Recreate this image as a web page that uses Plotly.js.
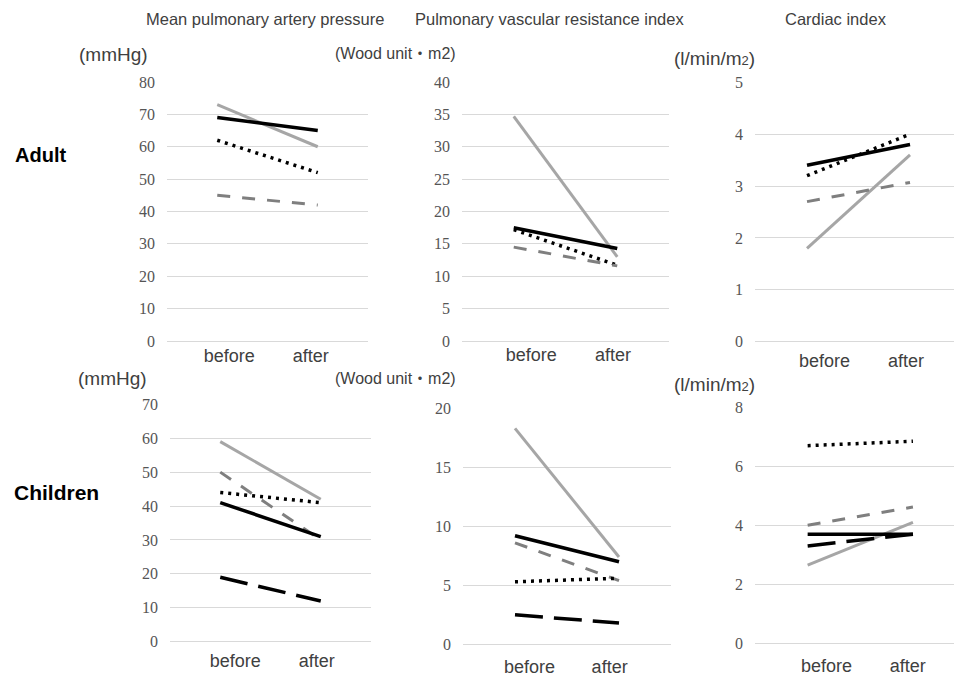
<!DOCTYPE html>
<html>
<head>
<meta charset="utf-8">
<script src="https://cdn.plot.ly/plotly-3.0.1.min.js"></script>
<style>html,body{margin:0;padding:0;background:#fff;}#chart{width:954px;height:678px;}</style>
</head>
<body>
<div id="chart"></div>
<script>
// ---- data ----
const categories = ['before', 'after'];
const columnTitles = ['Mean pulmonary artery pressure', 'Pulmonary vascular resistance index', 'Cardiac index'];
const rowLabels = ['Adult', 'Children'];
const unitLabels = ['(mmHg)', '(Wood unit・m2)', '(l/min/m<span style="font-size:13px">2</span>)'];

// Adult
const adultMPAP_graySolid = [73, 60];
const adultMPAP_blackSolid = [69, 65];
const adultMPAP_dotted = [62, 52];
const adultMPAP_grayDash = [45, 42];

const adultPVRI_graySolid = [34.7, 13];
const adultPVRI_blackSolid = [17.5, 14.3];
const adultPVRI_dotted = [17.2, 11.7];
const adultPVRI_grayDash = [14.5, 11.6];

const adultCI_graySolid = [1.8, 3.6];
const adultCI_blackSolid = [3.4, 3.8];
const adultCI_dotted = [3.2, 4.0];
const adultCI_grayDash = [2.7, 3.07];

// Children
const childMPAP_graySolid = [59, 42];
const childMPAP_grayDash = [50, 30];
const childMPAP_dotted = [44, 41];
const childMPAP_blackSolid = [41, 31];
const childMPAP_blackDash = [19, 12];

const childPVRI_graySolid = [18.3, 7.4];
const childPVRI_blackSolid = [9.2, 7.0];
const childPVRI_grayDash = [8.6, 5.4];
const childPVRI_dotted = [5.3, 5.6];
const childPVRI_blackDash = [2.5, 1.8];

const childCI_dotted = [6.7, 6.85];
const childCI_grayDash = [4.0, 4.62];
const childCI_blackSolid = [3.7, 3.7];
const childCI_blackDash = [3.3, 3.7];
const childCI_graySolid = [2.65, 4.1];

// y axis maxima / steps
const yMax = [80, 40, 5, 70, 20, 8];
const yStep = [10, 5, 1, 10, 5, 2];

// ---- styles ----
const W = 954, H = 678;
const styles = {
  graySolid: {color: '#a6a6a6', width: 3, dash: 'solid'},
  blackSolid: {color: '#000000', width: 3.5, dash: 'solid'},
  dotted: {color: '#000000', width: 3.5, dash: '3px,5px'},
  grayDash: {color: '#7f7f7f', width: 3, dash: '13px,12px'},
  blackDash: {color: '#000000', width: 3.5, dash: '28px,11px'}
};

const panelSeries = [
  [['graySolid', adultMPAP_graySolid], ['blackSolid', adultMPAP_blackSolid], ['dotted', adultMPAP_dotted], ['grayDash', adultMPAP_grayDash]],
  [['graySolid', adultPVRI_graySolid], ['dotted', adultPVRI_dotted], ['blackSolid', adultPVRI_blackSolid], ['grayDash', adultPVRI_grayDash]],
  [['graySolid', adultCI_graySolid], ['grayDash', adultCI_grayDash], ['dotted', adultCI_dotted], ['blackSolid', adultCI_blackSolid]],
  [['graySolid', childMPAP_graySolid], ['grayDash', childMPAP_grayDash], ['dotted', childMPAP_dotted], ['blackSolid', childMPAP_blackSolid], ['blackDash', childMPAP_blackDash]],
  [['graySolid', childPVRI_graySolid], ['grayDash', childPVRI_grayDash], ['blackSolid', childPVRI_blackSolid], ['dotted', childPVRI_dotted], ['blackDash', childPVRI_blackDash]],
  [['dotted', childCI_dotted], ['grayDash', childCI_grayDash], ['graySolid', childCI_graySolid], ['blackSolid', childCI_blackSolid], ['blackDash', childCI_blackDash]]
];

// ---- geometry (pixels) ----
const geom = [
  {x0: 167, x1: 368, top: 82, bot: 341, xr: [-0.5, 1.5], tv: [0.12, 0.93], xs: 2},
  {x0: 462, x1: 669, top: 82, bot: 341, xr: [-0.5, 1.5], tv: [0.17, 0.96], xs: 1},
  {x0: 755, x1: 954, top: 82.3, bot: 341.7, xr: [-0.505, 1.427], tv: [0.17, 0.96], xs: 6},
  {x0: 170, x1: 371, top: 404.3, bot: 641.7, xr: [-0.5, 1.5], tv: [0.15, 0.96], xs: 6},
  {x0: 463, x1: 671, top: 408.3, bot: 644.3, xr: [-0.5, 1.5], tv: [0.14, 0.91], xs: 10},
  {x0: 755, x1: 954, top: 407.3, bot: 643.3, xr: [-0.5, 1.39], tv: [0.18, 0.95], xs: 10}
];

const xIdx = categories.map((c, i) => i);
const traces = [];
const layout = {
  width: W, height: H,
  margin: {l: 0, r: 0, t: 0, b: 0},
  paper_bgcolor: '#ffffff', plot_bgcolor: '#ffffff',
  showlegend: false,
  annotations: []
};

panelSeries.forEach((series, p) => {
  const g = geom[p];
  const n = p + 1;
  const xa = n === 1 ? 'x' : 'x' + n;
  const ya = n === 1 ? 'y' : 'y' + n;
  series.forEach(([key, vals]) => {
    const s = styles[key];
    traces.push({
      type: 'scatter', mode: 'lines', x: xIdx, y: vals,
      xaxis: xa, yaxis: ya,
      line: {color: s.color, width: s.width, dash: s.dash},
      hoverinfo: 'skip'
    });
  });
  const xName = n === 1 ? 'xaxis' : 'xaxis' + n;
  const yName = n === 1 ? 'yaxis' : 'yaxis' + n;
  layout[xName] = {
    domain: [g.x0 / W, g.x1 / W],
    range: g.xr,
    anchor: ya,
    showgrid: false, zeroline: false, showline: false,
    tickmode: 'array', tickvals: g.tv, ticktext: categories,
    ticks: '', ticklabelstandoff: g.xs,
    tickfont: {family: 'Liberation Sans, Arial, sans-serif', size: 18, color: '#404040'},
    fixedrange: true
  };
  const tv = [];
  for (let v = 0; v <= yMax[p] + 1e-9; v += yStep[p]) tv.push(v);
  layout[yName] = {
    domain: [1 - g.bot / H, 1 - g.top / H],
    range: [0, yMax[p]],
    anchor: xa,
    showgrid: true, gridcolor: '#d9d9d9', gridwidth: 1,
    zeroline: true, zerolinecolor: '#d9d9d9', zerolinewidth: 1,
    showline: false,
    tickmode: 'array', tickvals: tv,
    ticks: '', ticklabelstandoff: 11,
    tickfont: {family: 'Liberation Serif, Times New Roman, serif', size: 16, color: '#555555'},
    fixedrange: true
  };
});

function ann(text, px, py, opts) {
  return Object.assign({
    text: text, xref: 'paper', yref: 'paper', x: px / W, y: 1 - py / H,
    xanchor: 'center', yanchor: 'middle', showarrow: false,
    font: {family: 'Liberation Sans, Arial, sans-serif', size: 16, color: '#404040'}
  }, opts || {});
}

const titleX = [265, 549, 836];
columnTitles.forEach((t, i) => layout.annotations.push(ann(t, titleX[i], 19, {font: {family: 'Liberation Sans, Arial, sans-serif', size: 16.5, color: '#404040'}})));

layout.annotations.push(ann(rowLabels[0], 13, 155, {xanchor: 'left', font: {family: 'Liberation Sans, Arial, sans-serif', size: 20, color: '#000000', weight: 'bold'}}));
layout.annotations.push(ann(rowLabels[1], 12, 492, {xanchor: 'left', font: {family: 'Liberation Sans, Arial, sans-serif', size: 21, color: '#000000', weight: 'bold'}}));

const unitPos = [[113, 55], [395, 53], [714, 59], [112, 378], [395, 378], [714, 384]];
const unitSize = [19, 16, 19];
unitPos.forEach((pos, i) => {
  const c = i % 3;
  layout.annotations.push(ann(unitLabels[c], pos[0], pos[1], {font: {family: 'Liberation Sans, Noto Sans CJK JP, Arial, sans-serif', size: unitSize[c], color: '#404040'}}));
});

Plotly.newPlot('chart', traces, layout, {staticPlot: true, displayModeBar: false});
</script>
</body>
</html>
